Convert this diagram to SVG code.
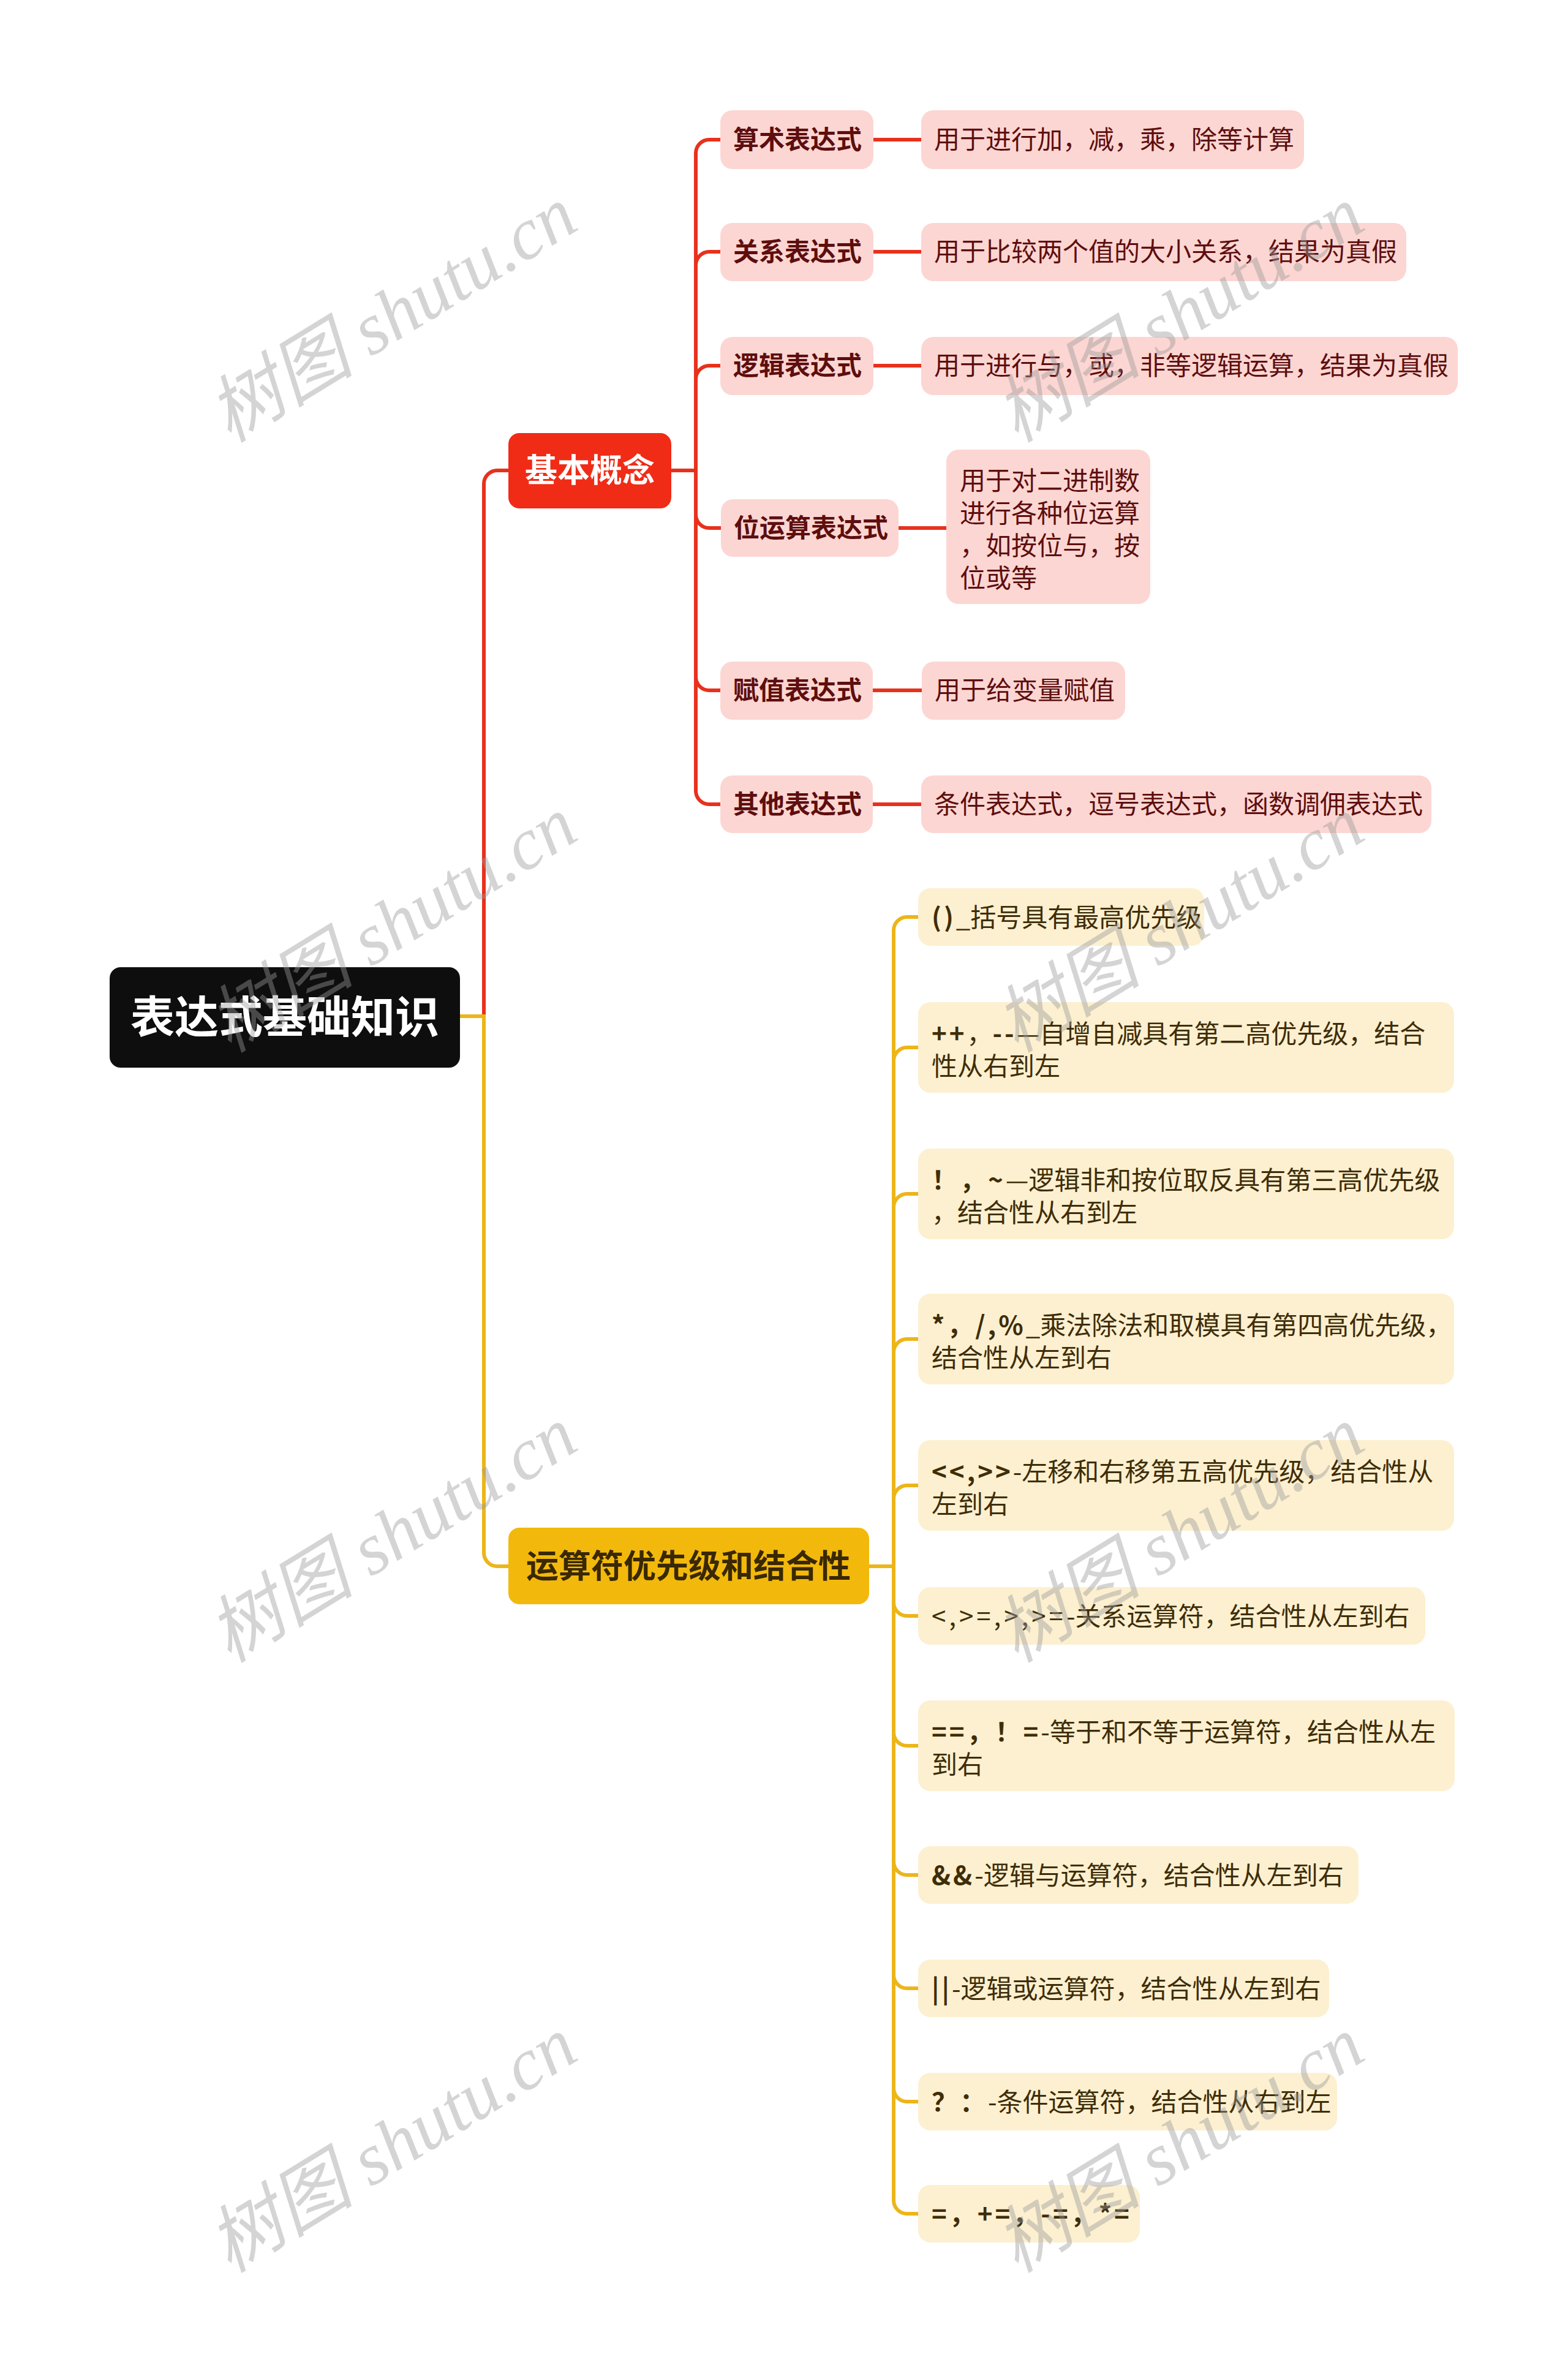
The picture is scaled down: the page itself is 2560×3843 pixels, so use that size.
<svg xmlns="http://www.w3.org/2000/svg" width="2560" height="3843" viewBox="0 0 2560 3843">
<style>
text{font-family:"Noto Sans CJK SC","Noto Sans",sans-serif}
.bg{fill:#ffffff}
.red{fill:none;stroke:#E8311D;stroke-width:6}
.yel{fill:none;stroke:#ECB51A;stroke-width:6}
.root rect{fill:#0E0E0E}
.root text{fill:#ffffff;font-size:72px;font-weight:bold;text-anchor:middle}
.l1r rect{fill:#F02C17}
.l1r text{fill:#ffffff;font-size:53px;font-weight:bold;text-anchor:middle}
.l1y rect{fill:#F2B90C}
.l1y text{fill:#3A2800;font-size:53px;font-weight:bold;text-anchor:middle}
.pk rect{fill:#FCD6D3}
.pk text{fill:#5E0E0E;font-size:42px}
.pkb text{font-weight:bold}
.cr rect{fill:#FCF0D0}
.cr text{fill:#3F2D08;font-size:42px}
.op{font-weight:bold;letter-spacing:4px}
.opr{letter-spacing:5px}
.wm{font-family:"Liberation Serif","Noto Sans CJK SC",serif;font-style:italic;font-size:120px;fill:#9a9a9a;opacity:0.42;text-anchor:middle}
</style>
<rect class="bg" x="0" y="0" width="2560" height="3843"/>
<g id="connectors">
<path class="red" d="M751 1659 H790 V790 A22 22 0 0 1 812 768 H830"/>
<path class="yel" d="M751 1659 H790 V2535 A22 22 0 0 0 812 2557 H830"/>
<path class="red" d="M1096 768 H1136 V250 A22 22 0 0 1 1158 228 H1176"/>
<path class="red" d="M1096 768 H1136 V433 A22 22 0 0 1 1158 411 H1176"/>
<path class="red" d="M1096 768 H1136 V619 A22 22 0 0 1 1158 597 H1176"/>
<path class="red" d="M1096 768 H1136 V840 A22 22 0 0 0 1158 862 H1177"/>
<path class="red" d="M1096 768 H1136 V1105 A22 22 0 0 0 1158 1127 H1176"/>
<path class="red" d="M1096 768 H1136 V1291 A22 22 0 0 0 1158 1313 H1176"/>
<path class="red" d="M1426 228 H1504"/>
<path class="red" d="M1426 411 H1504"/>
<path class="red" d="M1426 597 H1504"/>
<path class="red" d="M1467 862 H1545"/>
<path class="red" d="M1425 1127 H1505"/>
<path class="red" d="M1425 1313 H1504"/>
<path class="yel" d="M1419 2557 H1459 V1519 A22 22 0 0 1 1481 1497 H1499"/>
<path class="yel" d="M1419 2557 H1459 V1732 A22 22 0 0 1 1481 1710 H1499"/>
<path class="yel" d="M1419 2557 H1459 V1971 A22 22 0 0 1 1481 1949 H1499"/>
<path class="yel" d="M1419 2557 H1459 V2208 A22 22 0 0 1 1481 2186 H1499"/>
<path class="yel" d="M1419 2557 H1459 V2447 A22 22 0 0 1 1481 2425 H1499"/>
<path class="yel" d="M1419 2557 H1459 V2616 A22 22 0 0 0 1481 2638 H1499"/>
<path class="yel" d="M1419 2557 H1459 V2828 A22 22 0 0 0 1481 2850 H1499"/>
<path class="yel" d="M1419 2557 H1459 V3039 A22 22 0 0 0 1481 3061 H1499"/>
<path class="yel" d="M1419 2557 H1459 V3224 A22 22 0 0 0 1481 3246 H1499"/>
<path class="yel" d="M1419 2557 H1459 V3409 A22 22 0 0 0 1481 3431 H1499"/>
<path class="yel" d="M1419 2557 H1459 V3592 A22 22 0 0 0 1481 3614 H1499"/>
</g>
<g id="root" class="root"><rect x="179" y="1579" width="572" height="164" rx="18"/><text x="465" y="1686">表达式基础知识</text></g>
<g id="n-jbgn" class="l1r"><rect x="830" y="707" width="266" height="123" rx="18"/><text x="963" y="787">基本概念</text></g>
<g id="n-ysf" class="l1y"><rect x="830" y="2494" width="589" height="125" rx="18"/><text x="1124" y="2576">运算符优先级和结合性</text></g>
<g id="n-sszd" class="pk pkb"><rect x="1176" y="180" width="250" height="96" rx="20"/><text x="1197" y="243">算术表达式</text></g>
<g id="n-gxbd" class="pk pkb"><rect x="1176" y="364" width="250" height="95" rx="20"/><text x="1197" y="426">关系表达式</text></g>
<g id="n-ljbd" class="pk pkb"><rect x="1176" y="550" width="250" height="95" rx="20"/><text x="1197" y="612">逻辑表达式</text></g>
<g id="n-wys" class="pk pkb"><rect x="1177" y="815" width="290" height="94" rx="20"/><text x="1198" y="877">位运算表达式</text></g>
<g id="n-fzbd" class="pk pkb"><rect x="1176" y="1080" width="249" height="95" rx="20"/><text x="1197" y="1142">赋值表达式</text></g>
<g id="n-qtbd" class="pk pkb"><rect x="1176" y="1266" width="249" height="94" rx="20"/><text x="1197" y="1328">其他表达式</text></g>
<g id="d-ss" class="pk"><rect x="1504" y="180" width="625" height="96" rx="20"/><text x="1525" y="243">用于进行加，减，乘，除等计算</text></g>
<g id="d-gx" class="pk"><rect x="1504" y="364" width="792" height="95" rx="20"/><text x="1525" y="426">用于比较两个值的大小关系，结果为真假</text></g>
<g id="d-lj" class="pk"><rect x="1504" y="550" width="876" height="95" rx="20"/><text x="1525" y="612">用于进行与，或，非等逻辑运算，结果为真假</text></g>
<g id="d-wys" class="pk"><rect x="1545" y="734" width="333" height="252" rx="20"/><text x="1567" y="800">用于对二进制数</text><text x="1567" y="853">进行各种位运算</text><text x="1567" y="906">，如按位与，按</text><text x="1567" y="959">位或等</text></g>
<g id="d-fz" class="pk"><rect x="1505" y="1080" width="332" height="95" rx="20"/><text x="1526" y="1142">用于给变量赋值</text></g>
<g id="d-qt" class="pk"><rect x="1504" y="1266" width="833" height="94" rx="20"/><text x="1525" y="1328">条件表达式，逗号表达式，函数调佣表达式</text></g>
<g id="y1" class="cr"><rect x="1499" y="1450" width="467" height="94" rx="20"/><text x="1521" y="1513"><tspan class="op">()</tspan>_括号具有最高优先级</text></g>
<g id="y2" class="cr"><rect x="1499" y="1636" width="875" height="148" rx="20"/><text x="1521" y="1703"><tspan class="op">++</tspan>，<tspan class="op">--</tspan>—自增自减具有第二高优先级，结合</text><text x="1521" y="1756">性从右到左</text></g>
<g id="y3" class="cr"><rect x="1499" y="1875" width="875" height="148" rx="20"/><text x="1521" y="1942"><tspan class="op">！，~</tspan>—逻辑非和按位取反具有第三高优先级</text><text x="1521" y="1995">，结合性从右到左</text></g>
<g id="y4" class="cr"><rect x="1499" y="2112" width="875" height="148" rx="20"/><text x="1521" y="2179"><tspan class="op">*，/,%</tspan>_乘法除法和取模具有第四高优先级，</text><text x="1521" y="2232">结合性从左到右</text></g>
<g id="y5" class="cr"><rect x="1499" y="2351" width="875" height="148" rx="20"/><text x="1521" y="2418"><tspan class="op">&lt;&lt;,&gt;&gt;</tspan>-左移和右移第五高优先级，结合性从</text><text x="1521" y="2471">左到右</text></g>
<g id="y6" class="cr"><rect x="1499" y="2591" width="828" height="94" rx="20"/><text x="1521" y="2654"><tspan class="opr">&lt;,&gt;=,&gt;,&gt;=</tspan>-关系运算符，结合性从左到右</text></g>
<g id="y7" class="cr"><rect x="1499" y="2776" width="876" height="148" rx="20"/><text x="1521" y="2843"><tspan class="op">==，！=</tspan>-等于和不等于运算符，结合性从左</text><text x="1521" y="2896">到右</text></g>
<g id="y8" class="cr"><rect x="1499" y="3014" width="719" height="94" rx="20"/><text x="1521" y="3077"><tspan class="op">&amp;&amp;</tspan>-逻辑与运算符，结合性从左到右</text></g>
<g id="y9" class="cr"><rect x="1499" y="3199" width="671" height="94" rx="20"/><text x="1521" y="3262"><tspan class="op">||</tspan>-逻辑或运算符，结合性从左到右</text></g>
<g id="y10" class="cr"><rect x="1499" y="3384" width="684" height="94" rx="20"/><text x="1521" y="3447"><tspan class="op">？：</tspan>-条件运算符，结合性从右到左</text></g>
<g id="y11" class="cr"><rect x="1499" y="3567" width="362" height="94" rx="20"/><text x="1521" y="3630" class="op">=，+=，-=，*=</text></g>
<g id="watermarks">
<text class="wm" transform="translate(641 514) rotate(-31.5)" y="40">树图 shutu.cn</text>
<text class="wm" transform="translate(641 1510) rotate(-31.5)" y="40">树图 shutu.cn</text>
<text class="wm" transform="translate(641 2506) rotate(-31.5)" y="40">树图 shutu.cn</text>
<text class="wm" transform="translate(641 3502) rotate(-31.5)" y="40">树图 shutu.cn</text>
<text class="wm" transform="translate(1926 514) rotate(-31.5)" y="40">树图 shutu.cn</text>
<text class="wm" transform="translate(1926 1510) rotate(-31.5)" y="40">树图 shutu.cn</text>
<text class="wm" transform="translate(1926 2506) rotate(-31.5)" y="40">树图 shutu.cn</text>
<text class="wm" transform="translate(1926 3502) rotate(-31.5)" y="40">树图 shutu.cn</text>
</g>
</svg>
